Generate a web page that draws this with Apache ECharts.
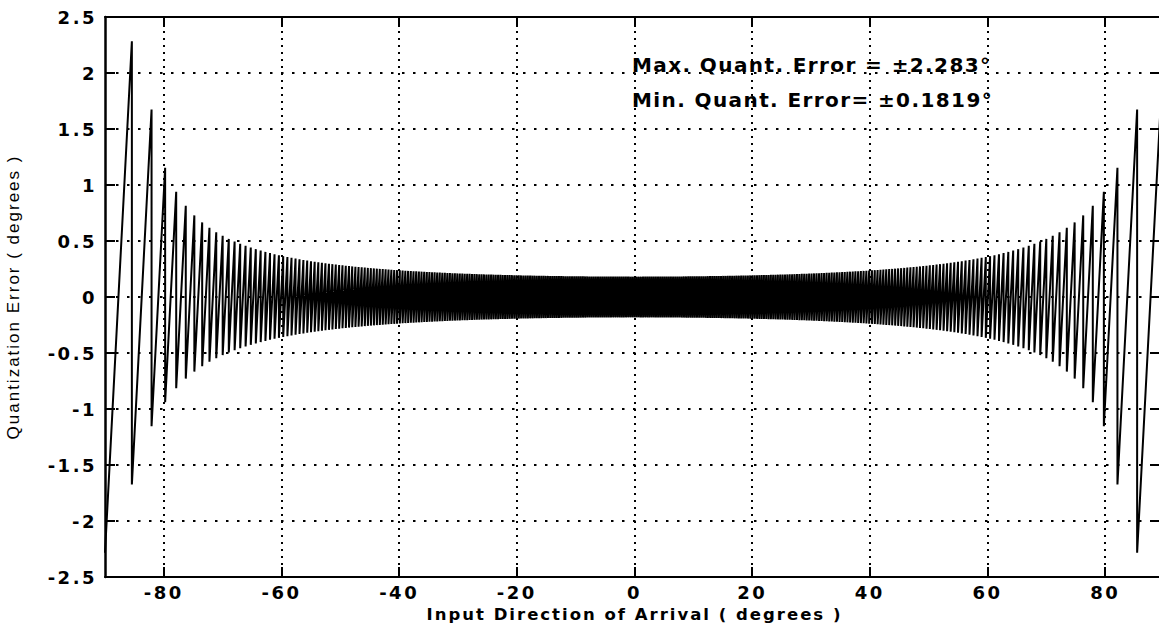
<!DOCTYPE html>
<html><head><meta charset="utf-8">
<script src="https://cdn.jsdelivr.net/npm/echarts@6/dist/echarts.min.js"></script>
<style>
html,body{margin:0;padding:0;background:#fff;}
#chart{width:1159px;height:632px;}
#chart text{letter-spacing:2.5px;}
#chart text[style*="sans-serif"]{letter-spacing:2px;}
#chart text[style*="Verdana"]{letter-spacing:1.4px;}
#chart text[style*="Liberation"]{letter-spacing:2px;}
</style></head><body><div id="chart"></div>
<script>
// Quantization cell edges on the positive side (degrees); the negative side mirrors them.
const cellEdgesDeg = [
0, 0.3638, 0.7276, 1.0914, 1.4553, 1.8193, 2.1833, 2.5475, 2.9118, 3.2762,
3.6403, 4.0049, 4.3696, 4.7346, 5.0997, 5.4650, 5.8306, 6.1964, 6.5624, 6.9288,
7.2954, 7.6623, 8.0295, 8.3970, 8.7649, 9.1332, 9.5019, 9.8709, 10.2404, 10.6103,
10.9806, 11.3514, 11.7227, 12.0945, 12.4668, 12.8396, 13.2130, 13.5870, 13.9615, 14.3367,
14.7125, 15.0889, 15.4660, 15.8438, 16.2223, 16.6015, 16.9815, 17.3623, 17.7439, 18.1262,
18.5094, 18.8935, 19.2784, 19.6643, 20.0510, 20.4388, 20.8275, 21.2173, 21.6080, 21.9998,
22.3927, 22.7867, 23.1819, 23.5782, 23.9757, 24.3744, 24.7745, 25.1758, 25.5784, 25.9824,
26.3878, 26.7947, 27.2029, 27.6127, 28.0239, 28.4368, 28.8514, 29.2676, 29.6854, 30.1050,
30.5265, 30.9497, 31.3749, 31.8019, 32.2310, 32.6621, 33.0952, 33.5305, 33.9680, 34.4078,
34.8500, 35.2944, 35.7414, 36.1908, 36.6429, 37.0976, 37.5551, 38.0154, 38.4786, 38.9448,
39.4141, 39.8866, 40.3623, 40.8415, 41.3241, 41.8103, 42.3002, 42.7940, 43.2918, 43.7937,
44.2998, 44.8103, 45.3254, 45.8452, 46.3699, 46.8997, 47.4348, 47.9753, 48.5216, 49.0739,
49.6323, 50.1974, 50.7691, 51.3478, 51.9340, 52.5280, 53.1301, 53.7407, 54.3604, 54.9896,
55.6288, 56.2785, 56.9394, 57.6124, 58.2981, 58.9973, 59.7110, 60.4402, 61.1860, 61.9502,
62.7339, 63.5390, 64.3674, 65.2218, 66.1046, 67.0191, 67.9694, 68.9605, 69.9983, 71.0905,
72.2471, 73.4820, 74.8138, 76.2709, 77.8985, 79.7778, 82.0861, 85.4333, 90
];
// Peak quantization error inside each cell (degrees); error runs from -peak to +peak across a cell.
const peakErrorDeg = [
0.1819, 0.1819, 0.1819, 0.1820, 0.1820, 0.1820, 0.1821, 0.1822, 0.1822, 0.1822,
0.1823, 0.1824, 0.1825, 0.1826, 0.1827, 0.1828, 0.1829, 0.1830, 0.1832, 0.1833,
0.1835, 0.1836, 0.1838, 0.1840, 0.1842, 0.1844, 0.1845, 0.1848, 0.1850, 0.1852,
0.1854, 0.1857, 0.1859, 0.1862, 0.1864, 0.1867, 0.1870, 0.1873, 0.1876, 0.1879,
0.1882, 0.1886, 0.1889, 0.1893, 0.1896, 0.1900, 0.1904, 0.1908, 0.1912, 0.1916,
0.1921, 0.1925, 0.1930, 0.1934, 0.1939, 0.1944, 0.1949, 0.1954, 0.1959, 0.1965,
0.1970, 0.1976, 0.1982, 0.1988, 0.1994, 0.2001, 0.2007, 0.2013, 0.2020, 0.2027,
0.2035, 0.2041, 0.2049, 0.2056, 0.2065, 0.2073, 0.2081, 0.2089, 0.2098, 0.2108,
0.2116, 0.2126, 0.2135, 0.2146, 0.2156, 0.2166, 0.2177, 0.2188, 0.2199, 0.2211,
0.2222, 0.2235, 0.2247, 0.2261, 0.2274, 0.2288, 0.2302, 0.2316, 0.2331, 0.2347,
0.2363, 0.2379, 0.2396, 0.2413, 0.2431, 0.2450, 0.2469, 0.2489, 0.2510, 0.2531,
0.2553, 0.2576, 0.2599, 0.2624, 0.2649, 0.2676, 0.2703, 0.2732, 0.2762, 0.2792,
0.2826, 0.2859, 0.2894, 0.2931, 0.2970, 0.3011, 0.3053, 0.3099, 0.3146, 0.3196,
0.3249, 0.3305, 0.3365, 0.3429, 0.3496, 0.3569, 0.3646, 0.3729, 0.3821, 0.3919,
0.4026, 0.4142, 0.4272, 0.4414, 0.4573, 0.4752, 0.4956, 0.5189, 0.5461, 0.5783,
0.6175, 0.6659, 0.7286, 0.8138, 0.9397, 1.1542, 1.6736, 2.2834
];
const xTickValues = [-80, -60, -40, -20, 0, 20, 40, 60, 80];
const yTickValues = [-2.5, -2, -1.5, -1, -0.5, 0, 0.5, 1, 1.5, 2, 2.5];
const xAxisTitle = 'Input Direction of Arrival ( degrees )';
const yAxisTitle = 'Quantization Error ( degrees )';
const annotationTexts = ['Max. Quant. Error = \u00b12.283\u00b0', 'Min. Quant. Error= \u00b10.1819\u00b0'];

// Build the sawtooth line: within each cell the error rises from -peak to +peak, then drops.
const points = [];
for (let i = peakErrorDeg.length - 1; i >= 0; i--) {
  points.push([-cellEdgesDeg[i + 1], -peakErrorDeg[i]]);
  points.push([-cellEdgesDeg[i], peakErrorDeg[i]]);
}
for (let i = 0; i < peakErrorDeg.length; i++) {
  points.push([cellEdgesDeg[i], -peakErrorDeg[i]]);
  points.push([cellEdgesDeg[i + 1], peakErrorDeg[i]]);
}

const tickFont = {color: '#000', fontFamily: 'DejaVu Sans', fontWeight: 'bold', fontSize: 18};
const axisLineStyle = {color: '#000', width: 2};
const chart = echarts.init(document.getElementById('chart'), null, {renderer: 'svg'});
chart.setOption({
  animation: false,
  backgroundColor: '#fff',
  grid: {left: 105, top: 17, width: 1059, height: 560, containLabel: false, outerBoundsMode: 'none'},
  xAxis: [{
    type: 'value', min: -90, max: 90, position: 'bottom',
    axisLine: {onZero: false, lineStyle: axisLineStyle},
    axisTick: {inside: true, length: 10, lineStyle: {color: '#000', width: 2}, customValues: xTickValues},
    axisLabel: Object.assign({margin: 6, customValues: xTickValues}, tickFont),
    splitLine: {show: true, lineStyle: {color: '#000', width: 2, type: [2, 5]}},
    name: xAxisTitle, nameLocation: 'middle', nameGap: 12,
    nameTextStyle: {color: '#000', fontFamily: 'DejaVu Sans, sans-serif', fontWeight: 'bold', fontSize: 16.5}
  }, {
    type: 'value', min: -90, max: 90, position: 'top',
    axisLine: {onZero: false, lineStyle: axisLineStyle},
    axisTick: {inside: true, length: 10, lineStyle: {color: '#000', width: 2}, customValues: xTickValues},
    axisLabel: {show: false},
    splitLine: {show: false}
  }],
  yAxis: [{
    type: 'value', min: -2.5, max: 2.5, interval: 0.5, position: 'left',
    axisLine: {onZero: false, lineStyle: {color: '#000', width: 2.5}},
    axisTick: {inside: true, length: 10, lineStyle: {color: '#000', width: 2}},
    axisLabel: Object.assign({margin: 8}, tickFont),
    splitLine: {show: true, lineStyle: {color: '#000', width: 2, type: [2.5, 8.5]}},
    name: yAxisTitle, nameLocation: 'middle', nameGap: 83,
    nameTextStyle: {color: '#000', fontFamily: 'Liberation Sans', fontSize: 17}
  }, {
    type: 'value', min: -2.5, max: 2.5, interval: 0.5, position: 'right',
    axisLine: {onZero: false, lineStyle: axisLineStyle},
    axisTick: {inside: true, length: 12, lineStyle: {color: '#000', width: 2}},
    axisLabel: {show: false},
    splitLine: {show: false}
  }],
  graphic: annotationTexts.map((t, i) => ({
    type: 'text', left: 632, top: i === 0 ? 55 : 90, z: 100,
    style: {text: t, fill: '#000', font: 'bold 20px DejaVu Sans, Verdana'}
  })),
  series: [{
    type: 'line', xAxisIndex: 0, yAxisIndex: 0,
    data: points, showSymbol: false, symbol: 'none', clip: true,
    lineStyle: {color: '#000', width: 2}
  }]
});
</script></body></html>
